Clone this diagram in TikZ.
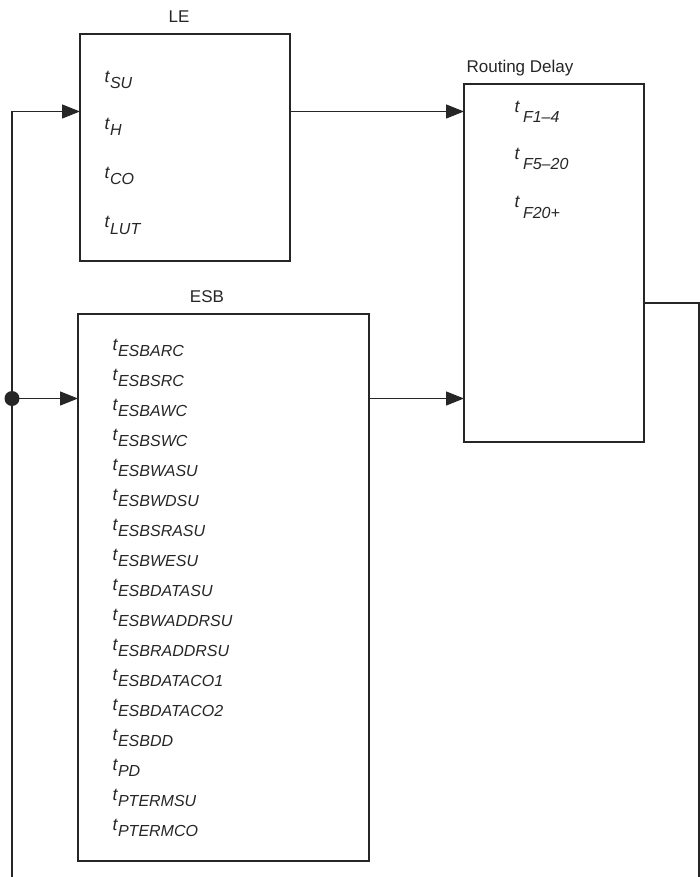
\documentclass[tikz,border=0pt]{standalone}
\usepackage{fontspec}
\setmainfont{Liberation Sans}
\usetikzlibrary{arrows.meta}
\newcommand{\tsub}[1]{{\fontsize{17.5}{18}\selectfont\textit{t}}\raisebox{-6pt}{\textit{#1}}}
\newcommand{\tsubr}[1]{{\fontsize{17.5}{18}\selectfont\textit{t}}\hspace{3pt}\raisebox{-10pt}{\textit{#1}}}
\begin{document}
\begin{tikzpicture}[x=1pt,y=-1pt,
  line width=1.2pt,
  conn/.style={draw=black!85,line width=1.2pt},
  boxnode/.style={draw=black!85,line width=1.2pt,anchor=north west,inner sep=0pt,outer sep=0pt},
  title/.style={font=\fontsize{17}{20}\selectfont,anchor=base,inner sep=0pt,text=black!85},
  item/.style={font=\fontsize{16}{18}\selectfont,anchor=base west,inner sep=0pt,text=black!85},
  arr/.style={conn,-{Triangle[length=18pt,width=14pt]}}]
\useasboundingbox (0,0) rectangle (700,877);
% boxes
\node[boxnode,minimum width=210pt,minimum height=227pt] (le) at (80,34) {};
\node[boxnode,minimum width=291pt,minimum height=547pt] (esb) at (78,314) {};
\node[boxnode,minimum width=180pt,minimum height=358pt] (rd) at (464,84) {};
% titles
\node[title] (tle) at (179,23) {LE};
\node[title] (tesb) at (207,302) {ESB};
\node[title] (trd) at (520,73) {Routing Delay};
% LE items
\node[item] (le1) at (104,83) {\tsub{SU}};
\node[item] (le2) at (104,130) {\tsub{H}};
\node[item] (le3) at (104,179) {\tsub{CO}};
\node[item] (le4) at (104,228) {\tsub{LUT}};
% Routing items
\node[item] (rd1) at (514,113) {\tsubr{F1–4}};
\node[item] (rd2) at (514,160) {\tsubr{F5–20}};
\node[item] (rd3) at (514,208) {\tsubr{F20+}};
% ESB items
\foreach \s [count=\i from 0] in {ESBARC,ESBSRC,ESBAWC,ESBSWC,ESBWASU,ESBWDSU,ESBSRASU,ESBWESU,ESBDATASU,ESBWADDRSU,ESBRADDRSU,ESBDATACO1,ESBDATACO2,ESBDD,PD,PTERMSU,PTERMCO}
  \node[item] (esb\i) at (112,350+30*\i) {\tsub{\s}};
% connectors
\coordinate (bl) at (12,877);
\coordinate (lt) at (12,111.5);
\coordinate (dot) at (12,398.5);
\coordinate (ro) at (699,303);
\coordinate (br) at (699,877);
\draw[arr] (bl) -- (lt) -- (lt -| le.west);
\fill[black!85] (dot) circle (7.5pt);
\draw[arr] (dot) -- (dot -| esb.west);
\draw[arr] (lt -| le.east) -- (lt -| rd.west);
\draw[arr] (dot -| esb.east) -- (dot -| rd.west);
\draw[conn] (ro -| rd.east) -- (ro) -- (br);
\end{tikzpicture}
\end{document}
